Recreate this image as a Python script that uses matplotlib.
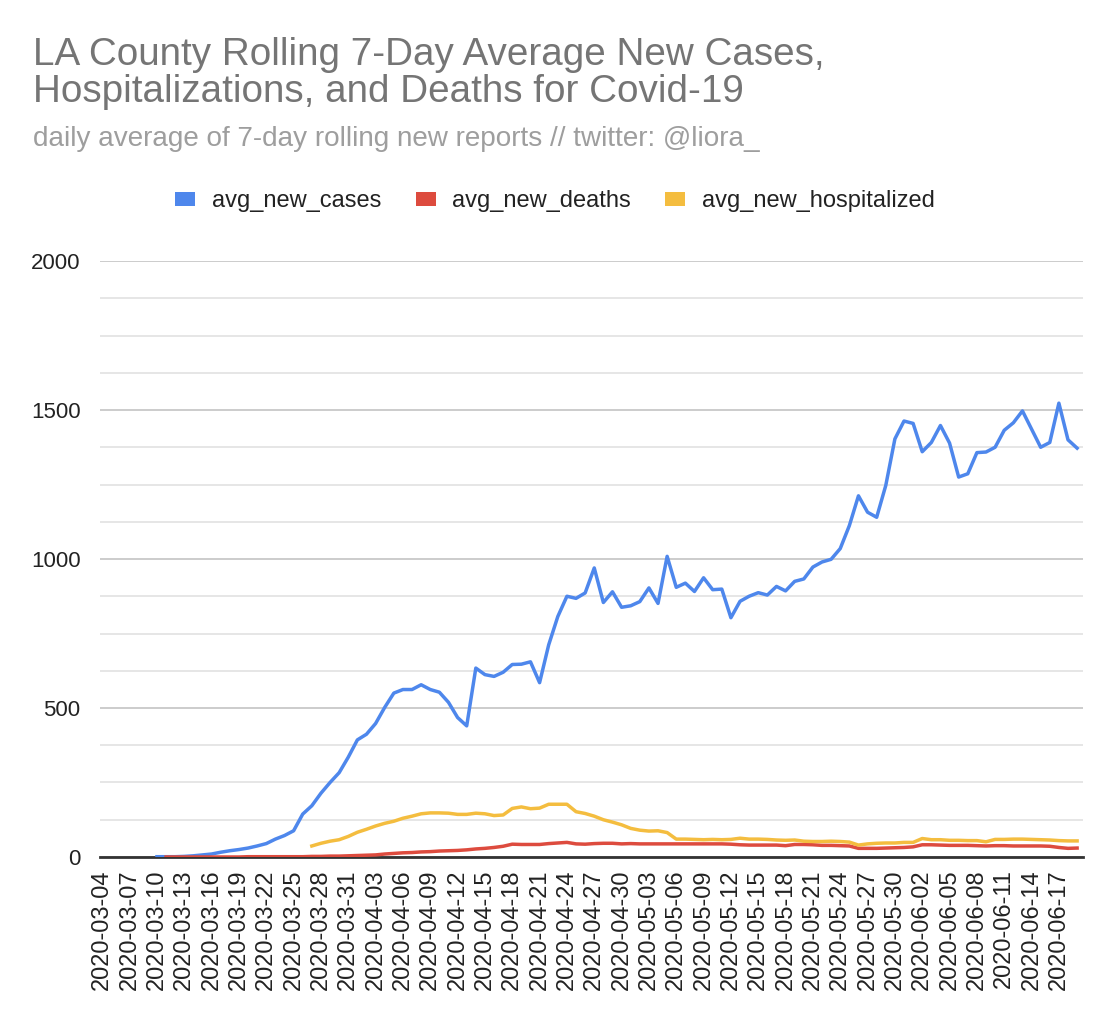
import numpy as np
import pandas as pd
import matplotlib
matplotlib.use("Agg")
import matplotlib.pyplot as plt
from matplotlib.patches import Patch
from matplotlib.ticker import MultipleLocator

plt.rcParams['font.family'] = ['Liberation Sans', 'DejaVu Sans']

nan = np.nan
dates = pd.date_range("2020-03-04", "2020-06-19", freq="D")

avg_new_cases = [
    nan, nan, nan, nan, nan, nan,
    1, 1, 1, 2, 4, 7, 10, 16, 21, 25, 30, 37, 45, 60, 72, 88,
    144, 172, 214, 250, 283, 335, 393, 412, 448, 502, 550, 562, 562, 578,
    562, 553, 519, 468, 440, 634, 612, 606, 620, 646, 647, 655, 585, 712,
    807, 875, 868, 886, 970, 854, 890, 838, 843, 857, 903, 851, 1009, 905,
    919, 891, 937, 897, 899, 803, 858, 875, 887, 879, 908, 893, 925, 933,
    973, 990, 999, 1035, 1112, 1212, 1157, 1140, 1247, 1403,
    1463, 1455, 1360, 1391, 1448, 1389, 1275, 1286, 1357, 1359, 1375, 1432,
    1457, 1497, 1436, 1375, 1391, 1523, 1400, 1372,
]

avg_new_deaths = [
    nan, nan, nan, nan, nan, nan, nan,
    0, 0, 0, 0, 0, 0, 0, 0, 0, 1, 1, 1, 1, 1, 1, 1, 2, 2, 3, 3, 4, 5, 6,
    7, 10, 12, 14, 15, 17, 18, 20, 21, 22, 24, 27, 29, 32, 36, 43, 42, 42,
    42, 45, 47, 49, 44, 43, 45, 46, 46, 44, 45, 44, 44, 44, 44, 44, 44, 44,
    44, 44, 44, 43, 41, 40, 40, 40, 40, 38, 42, 42, 41, 39, 39, 38, 37, 29,
    29, 29, 30, 31, 32, 34, 41, 41, 40, 39, 39, 39, 38, 37, 38, 38, 37, 37,
    37, 37, 36, 32, 29, 30,
]

avg_new_hospitalized = [
    nan, nan, nan, nan, nan, nan, nan, nan, nan, nan, nan, nan, nan, nan,
    nan, nan, nan, nan, nan, nan, nan, nan, nan,
    37, 46, 53, 58, 69, 83, 93, 104, 113, 120, 130, 137, 145, 148, 148, 147,
    143, 143, 147, 145, 139, 141, 163, 168, 162, 164, 177, 177, 177, 152,
    146, 137, 125, 117, 108, 96, 90, 87, 88, 82, 60, 60, 59, 58, 59, 58, 59,
    63, 60, 60, 59, 57, 56, 57, 53, 52, 52, 53, 52, 50, 40, 44, 46, 47, 47,
    49, 49, 62, 58, 58, 56, 56, 55, 55, 51, 59, 59, 60, 60, 59, 58, 57, 55,
    54, 54,
]

series = [
    ("avg_new_cases", avg_new_cases, "#4e87ec"),
    ("avg_new_deaths", avg_new_deaths, "#dd4b3e"),
    ("avg_new_hospitalized", avg_new_hospitalized, "#f4bd3f"),
]

fig = plt.figure(figsize=(11.10, 10.16), dpi=100)
ax = fig.add_axes([0.0901, 0.1565, 0.9757 - 0.0901, 0.7431 - 0.1565])

x = np.arange(len(dates))
for name, vals, col in series:
    ax.plot(x, vals, color=col, lw=2.5, solid_joinstyle='round', zorder=3)

ax.set_ylim(0, 2000)
ax.set_xlim(-0.25, len(dates) - 0.35)
ax.yaxis.set_major_locator(MultipleLocator(500))
ax.yaxis.set_minor_locator(MultipleLocator(125))
ax.grid(which='major', axis='y', color='#c8c8c8', lw=1.3, zorder=0)
ax.grid(which='minor', axis='y', color='#e4e4e4', lw=1.3, zorder=0)
ax.set_axisbelow(True)
for s in ['top', 'right', 'left']:
    ax.spines[s].set_visible(False)
ax.spines['bottom'].set_color('#333333')
ax.spines['bottom'].set_linewidth(2.0)
ax.spines['bottom'].set_zorder(2)

ax.tick_params(axis='y', which='both', length=0, pad=14, labelsize=16, labelcolor='#222222')
ax.set_yticks([0, 500, 1000, 1500, 2000])
ax.set_yticklabels(['0', '500', '1000', '1500', '2000'])

tick_idx = np.arange(0, len(dates), 3)
ax.set_xticks(tick_idx)
ax.set_xticklabels([dates[i].strftime("%Y-%m-%d") for i in tick_idx], rotation=90)
ax.tick_params(axis='x', length=0, pad=9, labelsize=17, labelcolor='#222222')

fig.text(0.0297, 0.936, "LA County Rolling 7-Day Average New Cases,", fontsize=27.8,
         color='#757575', va='baseline', ha='left')
fig.text(0.0297, 0.8995, "Hospitalizations, and Deaths for Covid-19", fontsize=27.8,
         color='#757575', va='baseline', ha='left')
fig.text(0.0297, 0.856, "daily average of 7-day rolling new reports // twitter: @liora_",
         fontsize=20.1, color='#9e9e9e', va='baseline', ha='left')

handles = [Patch(facecolor=c, edgecolor='none', label=n) for n, _, c in series]
fig.legend(handles=handles, loc='center', bbox_to_anchor=(0.5, 0.802), ncol=3,
           frameon=False, fontsize=17, handlelength=0.85, handleheight=0.5,
           handletextpad=0.7, columnspacing=1.45, labelcolor='#222222')

fig.savefig("out.png", dpi=100, facecolor='white')
